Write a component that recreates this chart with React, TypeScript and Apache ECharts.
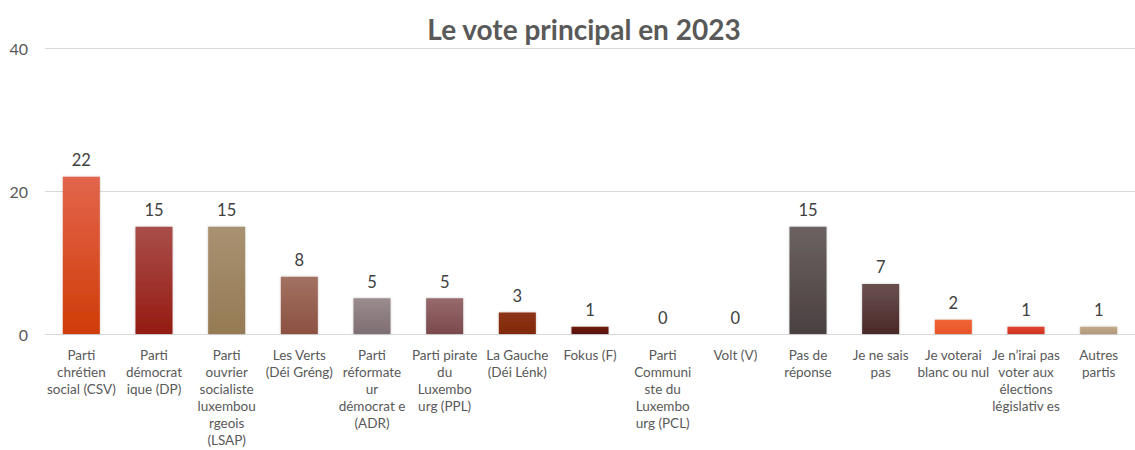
import React, { useEffect, useRef } from "react";
import * as echarts from "echarts";

const categories = [
  "Parti\nchrétien\nsocial (CSV)",
  "Parti\ndémocrat\nique (DP)",
  "Parti\nouvrier\nsocialiste\nluxembou\nrgeois\n(LSAP)",
  "Les Verts\n(Déi Gréng)",
  "Parti\nréformate\nur\ndémocrat e\n(ADR)",
  "Parti pirate\ndu\nLuxembo\nurg (PPL)",
  "La Gauche\n(Déi Lénk)",
  "Fokus (F)",
  "Parti\nCommuni\nste du\nLuxembo\nurg (PCL)",
  "Volt (V)",
  "Pas de\nréponse",
  "Je ne sais\npas",
  "Je voterai\nblanc ou nul",
  "Je n’irai pas\nvoter aux\nélections\nlégislativ es",
  "Autres\npartis",
];
const values = [22, 15, 15, 8, 5, 5, 3, 1, 0, 0, 15, 7, 2, 1, 1];
const topColors = [
  "#E2654C", "#A94E4A", "#A99272", "#A27262", "#9B8C8E", "#976A6C", "#8E3419",
  "#6C1C12", "#888888", "#888888", "#6B6262", "#6A5050", "#F26434", "#E24432", "#C2AA8A",
];
const bottomColors = [
  "#D03C08", "#951B11", "#957A54", "#8C5041", "#7E6E72", "#7A4A4C", "#802808",
  "#5A1008", "#666666", "#666666", "#4A4040", "#4A2828", "#E8552A", "#D03020", "#B09878",
];
const yTicks = { min: 0, max: 40, interval: 20 };
const title = "Le vote principal en 2023";

export default function App() {
  const ref = useRef<HTMLDivElement>(null);
  useEffect(() => {
    if (!ref.current) return;
    const chart = echarts.init(ref.current, null, { renderer: "svg" });
    const font = "Lato, 'Noto Sans', sans-serif";
    chart.setOption({
      animation: false,
      backgroundColor: "#ffffff",
      textStyle: { fontFamily: font },
      title: {
        text: title,
        left: 579,
        top: 10,
        textAlign: "center",
        textStyle: { fontFamily: font, fontSize: 28, fontWeight: "bold", color: "#595959" },
      },
      grid: { left: 45, top: 48, width: 1095, height: 286, containLabel: false },
      xAxis: {
        type: "category",
        data: categories,
        axisLine: { show: true, lineStyle: { color: "#d9d9d9", width: 1 } },
        axisTick: { show: false },
        axisLabel: {
          interval: 0,
          margin: 12,
          color: "#595959",
          fontFamily: font,
          fontSize: 13.5,
          lineHeight: 17,
          verticalAlign: "top",
        },
      },
      yAxis: {
        type: "value",
        min: yTicks.min,
        max: yTicks.max,
        interval: yTicks.interval,
        axisLine: { show: false },
        axisTick: { show: false },
        splitLine: { lineStyle: { color: "#d9d9d9", width: 1 } },
        axisLabel: { margin: 17, color: "#595959", fontFamily: font, fontSize: 16 },
      },
      series: [
        {
          type: "bar",
          barWidth: 37,
          data: values.map((v, i) => ({
            value: v,
            itemStyle: {
              color: new echarts.graphic.LinearGradient(0, 0, 0, 1, [
                { offset: 0, color: topColors[i] },
                { offset: 1, color: bottomColors[i] },
              ]),
              shadowColor: "rgba(0,0,0,0.25)",
              shadowBlur: 2,
            },
          })),
          label: {
            show: true,
            position: "top",
            distance: 8,
            color: "#404040",
            fontFamily: font,
            fontSize: 16.5,
          },
        },
      ],
    });
    return () => chart.dispose();
  }, []);
  return (
    <div
      ref={ref}
      style={{ position: "fixed", left: 0, top: 0, width: 1135, height: 450, background: "#fff" }}
    />
  );
}
